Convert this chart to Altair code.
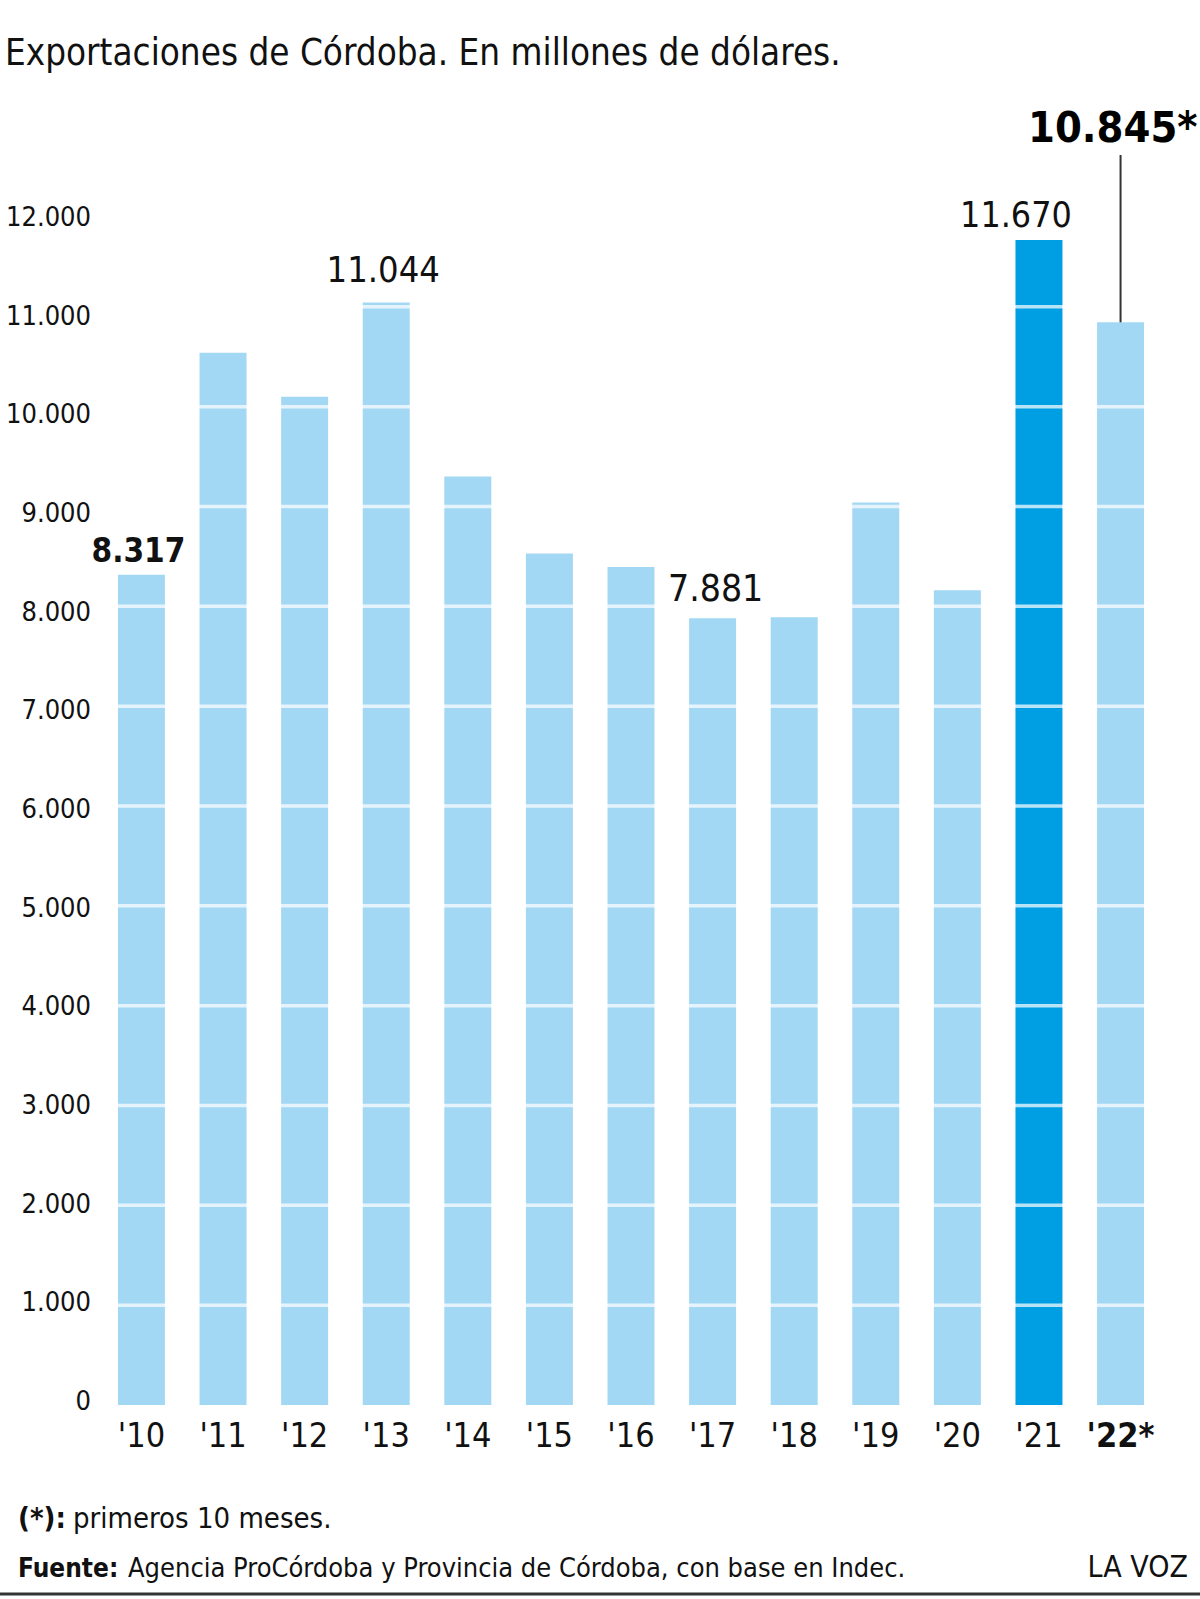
import altair as alt
import pandas as pd

# ---------------- data ----------------
years = ["'10", "'11", "'12", "'13", "'14", "'15", "'16", "'17", "'18", "'19", "'20", "'21", "'22*"]
values = [8317, 10540, 10100, 11044, 9300, 8530, 8395, 7881, 7890, 9040, 8160, 11670, 10845]
highlight = ["no"] * 11 + ["yes"] + ["no"]

y_ticks = [0, 1000, 2000, 3000, 4000, 5000, 6000, 7000, 8000, 9000, 10000, 11000, 12000]
y_tick_labels = ["0", "1.000", "2.000", "3.000", "4.000", "5.000", "6.000",
                 "7.000", "8.000", "9.000", "10.000", "11.000", "12.000"]
grid_values = [1000, 2000, 3000, 4000, 5000, 6000, 7000, 8000, 9000, 10000, 11000, 12000]

annot_years = ["'10", "'13", "'17", "'21"]
annot_values = [8317, 11044, 7881, 11670]
annot_labels = ["8.317", "11.044", "7.881", "11.670"]

last_year = ["'22*"]
last_value = [10845]
last_label = ["10.845*"]

FONT = "DejaVu Sans Condensed, Roboto, sans-serif"
LIGHT = "#a3d8f4"
DARK = "#009ee2"

df = pd.DataFrame({"year": years, "value": values, "hl": highlight})
yscale = alt.Scale(domain=[0, 12000], nice=False, zero=True)
xscale = alt.Scale(domain=years, paddingInner=0.424, paddingOuter=0.22)

xenc = alt.X("year:N", scale=xscale, sort=years,
             axis=alt.Axis(title=None, domain=False, ticks=False, tickSize=0,
                           labelAngle=0, labelFont=FONT, labelFontSize=34,
                           labelColor="#111", labelPadding=31, labelBaseline="middle",
                           labelFontWeight=alt.condition("indexof(datum.value, '*') >= 0",
                                                         alt.value("bold"), alt.value("normal"))))

bars = alt.Chart(df).mark_bar().encode(
    x=xenc,
    y=alt.Y("value:Q", scale=yscale, axis=None),
    color=alt.Color("hl:N", scale=alt.Scale(domain=["no", "yes"], range=[LIGHT, DARK]), legend=None),
)

grid = alt.Chart(pd.DataFrame({"g": grid_values})).mark_rule(
    color="white", strokeWidth=3.5, opacity=0.72
).encode(y=alt.Y("g:Q", scale=yscale, axis=None))

layers = [bars, grid]

styles = {
    "'10": dict(dx=-3, dy=-13, weight="bold", size=33),
    "'13": dict(dx=-3, dy=-20, weight="normal", size=36),
    "'17": dict(dx=3, dy=-17, weight="normal", size=37),
    "'21": dict(dx=-23, dy=-13, weight="normal", size=35.5),
}
for yr, v, lab in zip(annot_years, annot_values, annot_labels):
    s = styles[yr]
    layers.append(
        alt.Chart(pd.DataFrame({"year": [yr], "value": [v], "label": [lab]})).mark_text(
            font=FONT, fontSize=s["size"], fontWeight=s["weight"], color="#111",
            baseline="alphabetic", align="center", dx=s["dx"], dy=s["dy"]
        ).encode(
            x=alt.X("year:N", scale=xscale, sort=years),
            y=alt.Y("value:Q", scale=yscale, axis=None),
            text="label:N",
        )
    )

last_df = pd.DataFrame({"year": last_year, "value": last_value, "label": last_label})
leader = alt.Chart(last_df).mark_rule(color="#333", strokeWidth=2).encode(
    x=alt.X("year:N", scale=xscale, sort=years),
    y=alt.Y("value:Q", scale=yscale, axis=None),
    y2=alt.value(-52),
)
last_text = alt.Chart(last_df).mark_text(
    font=FONT, fontSize=43, fontWeight="bold", color="#000",
    baseline="alphabetic", align="right", dx=77
).encode(
    x=alt.X("year:N", scale=xscale, sort=years),
    y=alt.value(-65),
    text="label:N",
)
layers += [leader, last_text]

main = alt.layer(*layers)

ylab = alt.Chart(pd.DataFrame({"t": y_ticks, "lab": y_tick_labels})).mark_text(
    font=FONT, fontSize=27, color="#111", align="right", baseline="middle"
).encode(
    x=alt.value(-9),
    y=alt.Y("t:Q", scale=alt.Scale(domain=[0, 12000], range=[1195, 11], nice=False, zero=True), axis=None),
    text="lab:N",
)

one = pd.DataFrame({"k": [0]})


def txt(s, x, y, size, weight="normal", align="left", color="#111"):
    return alt.Chart(one).mark_text(
        text=s, font=FONT, fontSize=size, fontWeight=weight, align=align,
        baseline="alphabetic", color=color
    ).encode(x=alt.value(x), y=alt.value(y))


title = txt("Exportaciones de Córdoba. En millones de dólares.", -95, -142, 36.5)
f1a = txt("(*):", -82, 1321, 29, weight="bold")
f1b = txt("primeros 10 meses.", -27, 1321, 29)
f2a = txt("Fuente:", -82, 1370, 26, weight="bold")
f2b = txt("Agencia ProCórdoba y Provincia de Córdoba, con base en Indec.", 28, 1370, 27)
f2c = txt("LA VOZ", 1088, 1370, 30, align="right")
bottom_line = alt.Chart(one).mark_rule(color="#333", strokeWidth=3).encode(
    x=alt.value(-100), x2=alt.value(1100), y=alt.value(1387)
)

chart = alt.layer(main, ylab, title, f1a, f1b, f2a, f2b, f2c, bottom_line).resolve_scale(
    y="independent"
).properties(
    width=1062, height=1198,
    autosize=alt.AutoSizeParams(type="none"),
    padding={"left": 100, "top": 207, "right": 38, "bottom": 194},
    background="white",
).configure_view(stroke=None)

chart.save("out.html", embed_options={"renderer": "svg", "actions": False})
